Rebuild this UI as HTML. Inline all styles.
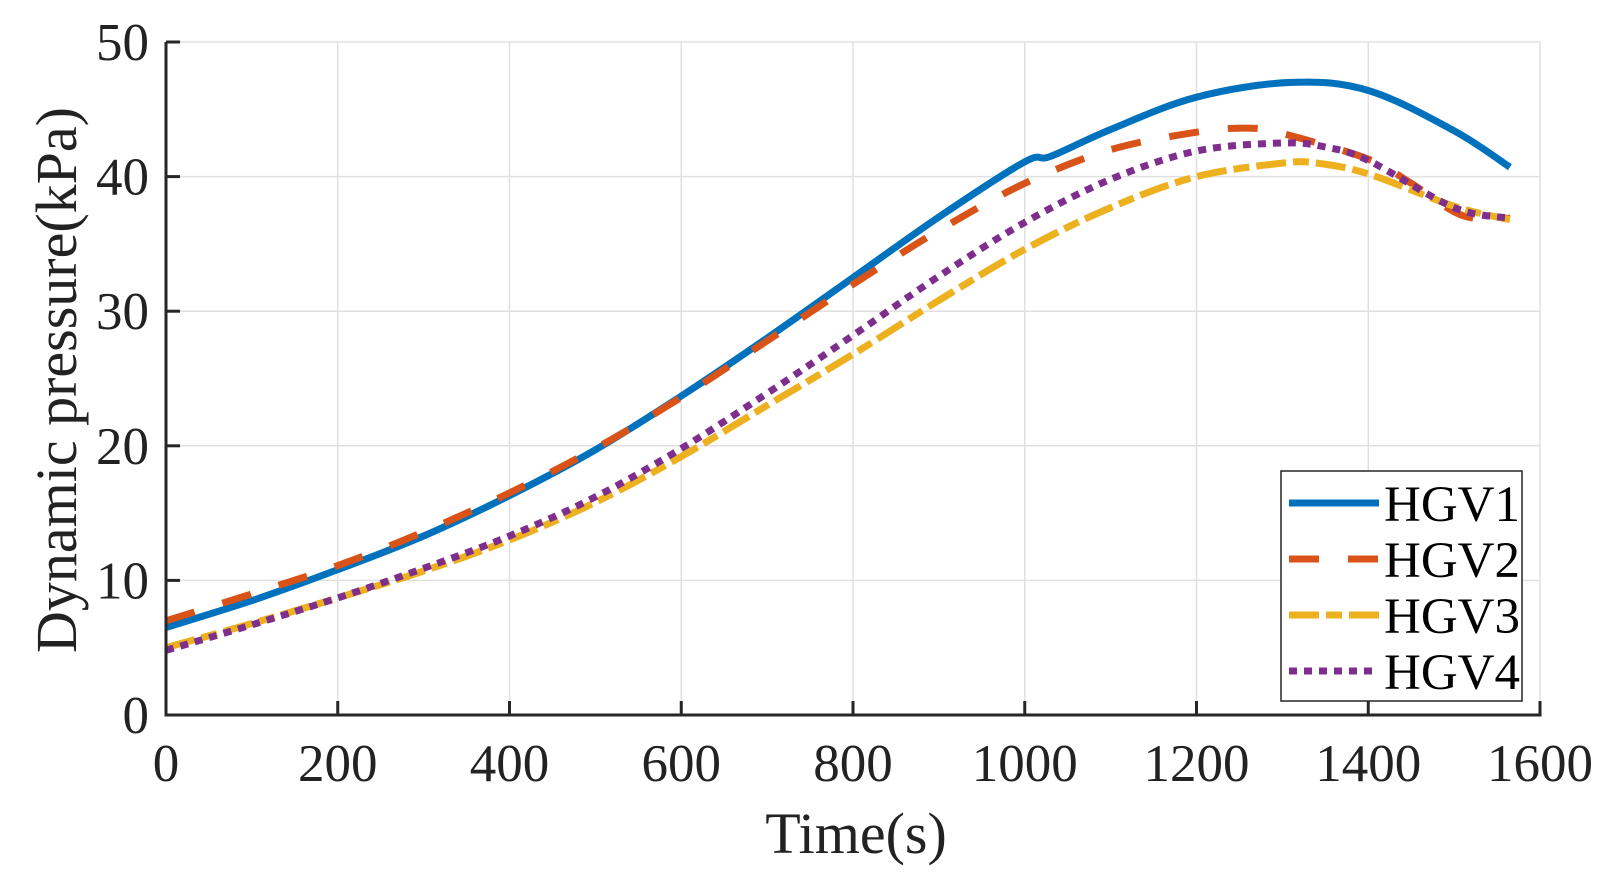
<!DOCTYPE html>
<html><head><meta charset="utf-8"><style>
html,body{margin:0;padding:0;background:#fff;}
svg{display:block;font-family:"Liberation Serif",serif;}
</style></head><body>
<svg id="chart" width="1610" height="879" viewBox="0 0 1610 879" xmlns="http://www.w3.org/2000/svg">
<g id="grid"></g>
<g id="series"></g>
<g id="axes"></g>
<text x="856" y="853" font-size="58" text-anchor="middle" fill="#222">Time(s)</text>
<text transform="translate(76,380) rotate(-90)" font-size="58" text-anchor="middle" fill="#222">Dynamic pressure(kPa)</text>
<g id="legend"></g>
</svg>
<script>
const xTicks=[0,200,400,600,800,1000,1200,1400,1600];
const yTicks=[0,10,20,30,40,50];
const names=["HGV1","HGV2","HGV3","HGV4"];
const colors=["#0072BD","#D95319","#EDB120","#7E2F8E"];
const dashes=["","30,29","30,7,16,7","8,7"];
const t1=[0,100,200,300,400,500,600,700,800,900,1000,1030,1100,1200,1310,1400,1500,1565];
const v1=[6.5,8.5,10.8,13.3,16.3,19.7,23.7,28,32.5,37,41.1,41.5,43.5,45.9,47,46.4,43.4,40.7];
const t2=[0,100,200,300,400,500,600,700,800,900,1000,1100,1200,1260,1300,1400,1450,1510,1565];
const v2=[7,9,11.1,13.6,16.5,19.8,23.6,27.8,32,36,39.5,42,43.3,43.6,43.2,41.3,39.5,37.1,36.9];
const t3=[0,100,200,300,400,500,600,700,800,900,1000,1100,1200,1300,1340,1400,1500,1565];
const v3=[5,6.8,8.7,10.7,13,15.8,19.2,23,26.8,30.8,34.6,37.7,40,41,41,40.2,37.8,36.8];
const t4=[0,100,200,300,400,500,600,700,800,900,1000,1100,1200,1300,1350,1400,1500,1565];
const v4=[4.8,6.7,8.7,10.9,13.3,16.2,19.8,23.9,28.2,32.6,36.6,39.8,41.9,42.5,42.2,41.2,37.7,36.9];
const L=166,R=1540,T=42,B=715;
const X=v=>L+(v/1600)*(R-L), Y=v=>B-(v/50)*(B-T);
const NS="http://www.w3.org/2000/svg";
function mk(tag,attrs,parent){const e=document.createElementNS(NS,tag);for(const k in attrs)e.setAttribute(k,attrs[k]);parent.appendChild(e);return e;}
const grid=document.getElementById('grid'),axes=document.getElementById('axes'),ser=document.getElementById('series'),leg=document.getElementById('legend');
xTicks.forEach(v=>{
 const g=mk('line',{x1:X(v),x2:X(v),y1:T,y2:B,stroke:'#e0e0e0','stroke-width':1.5},grid);
 
 
 const tk=mk('line',{x1:X(v),x2:X(v),y1:B,y2:B-14,stroke:'#262626','stroke-width':3},axes);
 
 
 const tx=mk('text',{x:X(v),y:781,'font-size':53,'text-anchor':'middle',fill:'#222'},axes);
 tx.textContent=v;
 
 
});
yTicks.forEach(v=>{
 const g=mk('line',{x1:L,x2:R,y1:Y(v),y2:Y(v),stroke:'#e0e0e0','stroke-width':1.5},grid);
 
 
 const tk=mk('line',{x1:L,x2:L+14,y1:Y(v),y2:Y(v),stroke:'#262626','stroke-width':3},axes);
 
 
 const tx=mk('text',{x:149,y:Y(v)+18,'font-size':53,'text-anchor':'end',fill:'#222'},axes);
 tx.textContent=v;
 
 
});
const ax=mk('path',{d:`M${L},${T}L${L},${B}L${R},${B}L${R},${B-14}`,fill:'none',stroke:'#262626','stroke-width':3},axes);


function smooth(px,py){
 let d='M'+px[0].toFixed(1)+','+py[0].toFixed(1);
 for(let i=0;i<px.length-1;i++){
  const i0=Math.max(0,i-1),i3=Math.min(px.length-1,i+2);
  const c1x=px[i]+(px[i+1]-px[i0])/6,c1y=py[i]+(py[i+1]-py[i0])/6;
  const c2x=px[i+1]-(px[i3]-px[i])/6,c2y=py[i+1]-(py[i3]-py[i])/6;
  d+=`C${c1x.toFixed(1)},${c1y.toFixed(1)} ${c2x.toFixed(1)},${c2y.toFixed(1)} ${px[i+1].toFixed(1)},${py[i+1].toFixed(1)}`;
 }
 return d;
}
const data=[[t1,v1],[t2,v2],[t3,v3],[t4,v4]];
data.forEach(([t,v],i)=>{
 const d=smooth(t.map(X),v.map(Y));
 const p=mk('path',{d:d,fill:'none',stroke:colors[i],'stroke-width':7,'stroke-dasharray':dashes[i]||'none'},ser);
 
 
});
const box=mk('rect',{x:1281,y:471,width:241,height:230,fill:'#fff',stroke:'#262626','stroke-width':1.5},leg);


names.forEach((n,i)=>{
 const cy=503+i*56;
 const ln=mk('line',{x1:1289,x2:1379,y1:cy,y2:cy,stroke:colors[i],'stroke-width':7,'stroke-dasharray':dashes[i]||'none'},leg);
 
 
 const tx=mk('text',{x:1384,y:cy+18,'font-size':51,fill:'#000'},leg);
 tx.textContent=n;
 
 
});
</script>
</body></html>
